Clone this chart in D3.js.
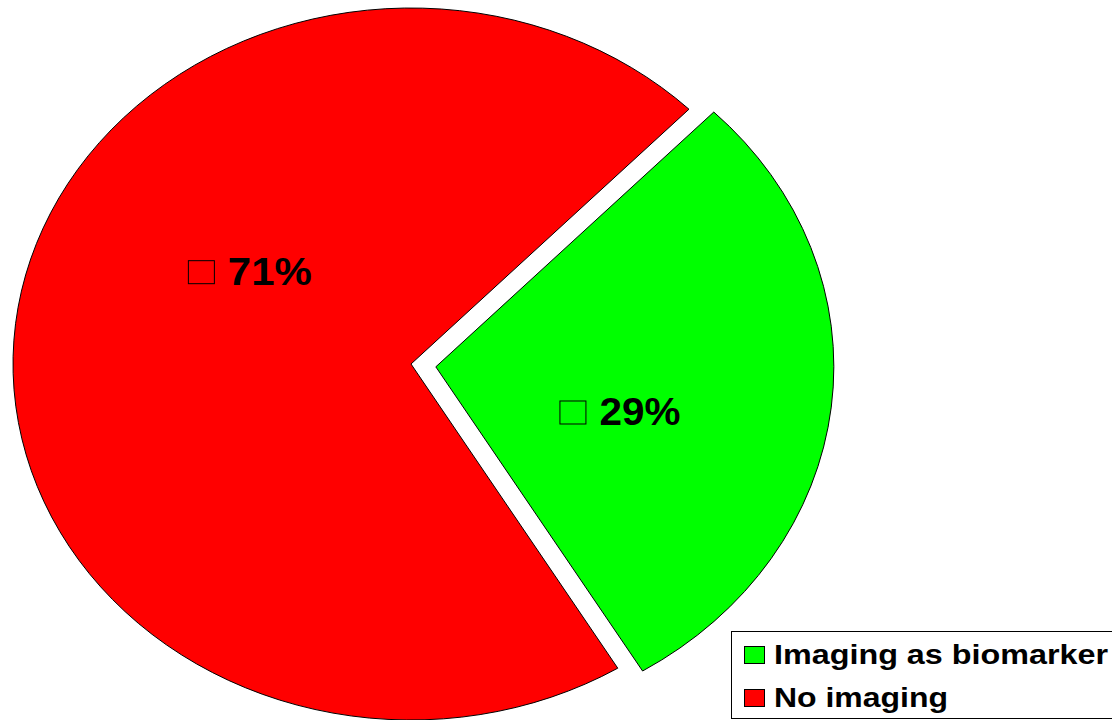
<!DOCTYPE html>
<html>
<head>
<meta charset="utf-8">
<script src="https://cdn.jsdelivr.net/npm/d3@7"></script>
<style>
  html, body { margin: 0; padding: 0; background: #fff; }
  svg { display: block; }
  text { font-family: "Liberation Sans", Arial, sans-serif; font-weight: bold; fill: #000; }
</style>
</head>
<body>
<svg id="chart" width="1112" height="720"></svg>
<script>
// ---- data ----
const categories = ["Imaging as biomarker", "No imaging"];
const values = [29, 71];
const valueLabels = ["29%", "71%"];
const colors = ["#00ff00", "#ff0000"];

// ---- layout ----
const W = 1112, H = 720;
const cx = 411, cy = 364, rx = 398, ry = 356;
const startDeg = 44.3;
const explode = [25, 0];           // green slice pulled out
const labelAngleShift = [9, 26];   // label placement tweak (deg) relative to slice mid
const labelRadiusFrac = [0.48, 0.48];

const svg = d3.select("#chart");

const pie = d3.pie().sort(null).value(d => d)
  .startAngle(startDeg * Math.PI / 180)
  .endAngle(startDeg * Math.PI / 180 + 2 * Math.PI);
const arcs = pie(values);

const arcGen = d3.arc().innerRadius(0).outerRadius(ry);

const order = [1, 0];
order.forEach(i => {
  const a = arcs[i];
  const mid = (a.startAngle + a.endAngle) / 2;
  const dx = explode[i] * Math.sin(mid), dy = -explode[i] * Math.cos(mid);
  svg.append("path")
    .attr("d", arcGen(a))
    .attr("transform", `translate(${cx + dx},${cy + dy}) scale(${rx / ry},1)`)
    .attr("fill", colors[i])
    .attr("stroke", "#000")
    .attr("stroke-width", 1)
    .attr("vector-effect", "non-scaling-stroke");
});

// ---- slice labels ----
const labelFont = 39;
const labelTextLen = [81, 84];
arcs.forEach((a, i) => {
  const mid = (a.startAngle + a.endAngle) / 2 + labelAngleShift[i] * Math.PI / 180;
  const dx = explode[i] * Math.sin((a.startAngle + a.endAngle) / 2);
  const dy = -explode[i] * Math.cos((a.startAngle + a.endAngle) / 2);
  const lx = cx + dx + rx * labelRadiusFrac[i] * Math.sin(mid);
  const ly = cy + dy - ry * labelRadiusFrac[i] * Math.cos(mid);
  const sq = 26, gap = 14;
  const total = sq + gap + labelTextLen[i];
  const x0 = lx - total / 2;
  const base = ly + 13;
  const g = svg.append("g");
  g.append("rect")
    .attr("x", x0 + 0.5).attr("y", base - 25 + 0.5)
    .attr("width", sq).attr("height", 23)
    .attr("fill", "none").attr("stroke", "#000").attr("stroke-width", 1);
  g.append("text")
    .attr("x", x0 + sq + gap).attr("y", base)
    .attr("font-size", labelFont)
    .attr("textLength", labelTextLen[i])
    .attr("lengthAdjust", "spacingAndGlyphs")
    .text(valueLabels[i]);
});

// ---- legend ----
const lg = svg.append("g");
lg.append("rect")
  .attr("x", 731.5).attr("y", 631.5)
  .attr("width", 400).attr("height", 87)
  .attr("fill", "#fff").attr("stroke", "#000").attr("stroke-width", 1);
const legendTextLen = [334, 174];
const legendBase = [664, 707];
categories.forEach((c, i) => {
  lg.append("rect")
    .attr("x", 744.5).attr("y", legendBase[i] - 17.5)
    .attr("width", 20).attr("height", 17)
    .attr("fill", colors[i]).attr("stroke", "#000").attr("stroke-width", 1);
  lg.append("text")
    .attr("x", 774).attr("y", legendBase[i])
    .attr("font-size", 28)
    .attr("textLength", legendTextLen[i])
    .attr("lengthAdjust", "spacingAndGlyphs")
    .text(c);
});
</script>
</body>
</html>
